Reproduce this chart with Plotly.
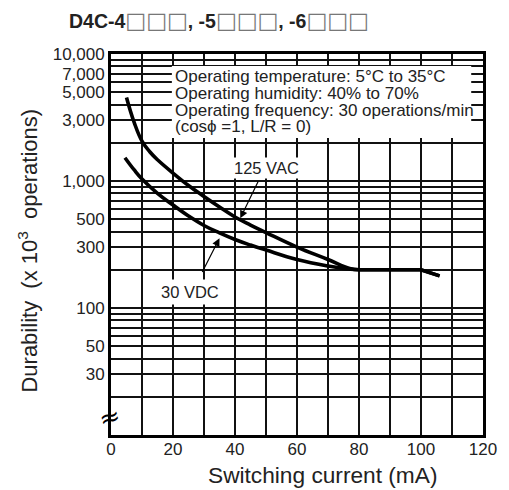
import plotly.graph_objects as go
import math

# ---- data ----
current_125vac = [5, 7.5, 10, 12.5, 15, 20, 25, 30, 35, 40, 45, 50, 60, 70, 77, 80, 100, 106]
durability_125vac = [4550, 2880, 2060, 1700, 1470, 1155, 922, 755, 624, 521, 450, 393, 302, 241, 205, 200, 200, 179]

current_30vdc = [4.5, 7.5, 10, 15, 20, 25, 30, 35, 40, 45, 50, 60, 70, 75, 80, 100, 106]
durability_30vdc = [1525, 1221, 1037, 800, 647, 530, 446, 390, 346, 313, 286, 241, 214, 205, 200, 200, 179]

# index where each curve reaches the flat 200 plateau (rest is straight segments)
plateau_start_125vac = 15
plateau_start_30vdc = 14

x_tick_vals = [0, 10, 20, 30, 40, 50, 60, 70, 80, 90, 100, 110, 120]
x_tick_text = ["0", "", "20", "", "40", "", "60", "", "80", "", "100", "", "120"]

y_tick_vals = [10, 20, 30, 40, 50, 60, 70, 80, 90,
               100, 200, 300, 400, 500, 600, 700, 800, 900,
               1000, 2000, 3000, 4000, 5000, 6000, 7000, 8000, 9000, 10000]
y_tick_text = ["", "", "30", "", "50", "", "", "", "",
               "100", "", "300", "", "500", "", "", "", "",
               "1,000", "", "3,000", "", "5,000", "", "7,000", "", "", "10,000"]

title_parts = ["D4C-4", "□□□", ", -5", "□□□", ", -6", "□□□"]
condition_lines = ["Operating temperature: 5°C to 35°C",
                   "Operating humidity: 40% to 70%",
                   "Operating frequency: 30 operations/min",
                   "(cos\u03d5 =1, L/R = 0)"]

FONT = "Liberation Sans, Arial, Helvetica, sans-serif"

# plot-area geometry in pixels
W, H = 509, 490
L, R, T, B = 111, 19, 54, 55
PW, PH = W - L - R, H - T - B

def px_x(px):
    return (px - L) / PW

def px_y(py):
    return (H - B - py) / PH

fig = go.Figure()

for xs, ys, k in [(current_125vac, durability_125vac, plateau_start_125vac),
                  (current_30vdc, durability_30vdc, plateau_start_30vdc)]:
    fig.add_trace(go.Scatter(x=xs[:k + 1], y=ys[:k + 1], mode="lines",
                             line=dict(color="black", width=3.6, shape="spline", smoothing=1.2),
                             hoverinfo="skip"))
    fig.add_trace(go.Scatter(x=xs[k:], y=ys[k:], mode="lines",
                             line=dict(color="black", width=3.6),
                             hoverinfo="skip"))

fig.update_layout(
    width=W, height=H,
    margin=dict(l=L, r=R, t=T, b=B, pad=0),
    plot_bgcolor="white", paper_bgcolor="white",
    showlegend=False,
    font=dict(family=FONT, color="black"),
    xaxis=dict(range=[0, 120], tickmode="array", tickvals=x_tick_vals, ticktext=x_tick_text,
               showgrid=True, gridcolor="#111", gridwidth=1.7, zeroline=False,
               showline=True, mirror=True, linecolor="black", linewidth=2.8,
               ticks="", ticklabelstandoff=-3,
               tickfont=dict(size=17, family=FONT, color="#222")),
    yaxis=dict(type="log", range=[1, 4], tickmode="array", tickvals=y_tick_vals, ticktext=y_tick_text,
               showgrid=True, gridcolor="#111", gridwidth=1.7, zeroline=False,
               showline=True, mirror=True, linecolor="black", linewidth=2.8,
               ticks="", tickfont=dict(size=17, family=FONT, color="#222")),
)

# white box for the operating conditions
fig.add_shape(type="rect", xref="paper", yref="paper",
              x0=px_x(173), x1=px_x(478), y0=px_y(138), y1=px_y(66),
              fillcolor="white", line=dict(width=0), layer="above")

for i, line in enumerate(condition_lines):
    fig.add_annotation(text=line, xref="paper", yref="paper",
                       x=px_x(174), y=px_y(76.5 + i * 16.8),
                       xanchor="left", yanchor="middle", showarrow=False,
                       font=dict(size=17, family=FONT, color="#222"))

# curve labels with arrows
fig.add_annotation(text="125 VAC", x=50.3, y=math.log10(1265), xref="x", yref="y",
                   xanchor="center", yanchor="middle",
                   showarrow=False, bgcolor="white", borderpad=1,
                   font=dict(size=16.5, family=FONT, color="#222"))
fig.add_annotation(x=41.7, y=math.log10(508), ax=47.7, ay=math.log10(1018),
                   xref="x", yref="y", axref="x", ayref="y", text="",
                   showarrow=True, arrowhead=2, arrowsize=1.3, arrowwidth=1.2, arrowcolor="black")

fig.add_annotation(text="30 VDC", x=25.5, y=math.log10(134), xref="x", yref="y",
                   xanchor="center", yanchor="middle",
                   showarrow=False, bgcolor="white", borderpad=3,
                   font=dict(size=16.5, family=FONT, color="#222"))
fig.add_annotation(x=35.0, y=math.log10(354), ax=29.2, ay=math.log10(187),
                   xref="x", yref="y", axref="x", ayref="y", text="",
                   showarrow=True, arrowhead=2, arrowsize=1.3, arrowwidth=1.2, arrowcolor="black")

# axis break mark
fig.add_annotation(text="≈", xref="paper", yref="paper", x=px_x(109), y=px_y(417),
                   xanchor="center", yanchor="middle",
                   showarrow=False, textangle=-15,
                   font=dict(size=25, family="DejaVu Sans", color="black"))

# axis titles
fig.add_annotation(text="Switching current (mA)", xref="paper", yref="paper",
                   x=px_x(326), y=px_y(475), xanchor="center", yanchor="middle", showarrow=False,
                   font=dict(size=22.7, family=FONT, color="#222"))
fig.add_annotation(text="Durability\u00a0\u00a0(x 10<sup>3</sup>\u00a0\u00a0operations)",
                   xref="paper", yref="paper",
                   x=px_x(26), y=px_y(251), xanchor="center", yanchor="middle",
                   showarrow=False, textangle=-90,
                   font=dict(size=22, family=FONT, color="#222"))

# chart title (bold text, light outlined boxes)
title_html = "".join(
    p if p != "□□□" else
    '<span style="font-family:DejaVu Sans;font-weight:normal;font-size:22px;color:#777">' + p + "</span>"
    for p in title_parts)
fig.add_annotation(text="<b>" + title_html + "</b>", xref="paper", yref="paper",
                   x=px_x(66), y=px_y(21), xanchor="left", yanchor="middle", showarrow=False,
                   font=dict(size=19.5, family=FONT, color="#222"))

fig.write_html("out.html", config={"displayModeBar": False},
               post_script="document.body.style.margin='0';document.body.style.overflow='hidden';")
